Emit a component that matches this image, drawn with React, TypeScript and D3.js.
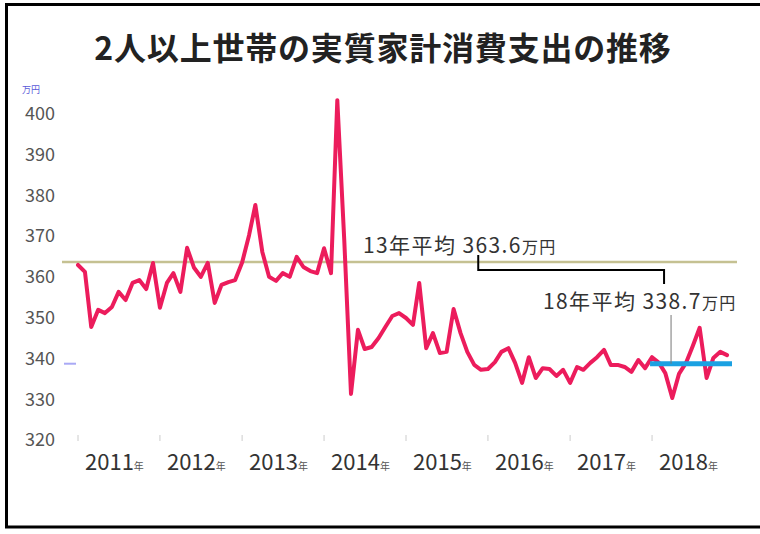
import * as d3 from 'd3';

// 月次の実質家計消費支出（万円）2011年1月〜2018年12月
const v2011 = [362.9, 361.2, 347.7, 351.9, 351.1, 352.6, 356.3, 354.3, 358.5, 359.2, 357.0, 363.4];
const v2012 = [352.4, 358.5, 360.9, 356.3, 367.1, 362.2, 360.0, 363.4, 353.6, 358.0, 358.7, 359.2];
const v2013 = [363.5, 370.2, 377.6, 366.1, 360.0, 359.0, 360.9, 360.0, 364.9, 362.4, 361.4, 360.9];
const v2014 = [367.0, 360.9, 403.3, 369.0, 331.3, 347.0, 342.3, 342.8, 345.0, 347.7, 350.4, 351.1];
const v2015 = [349.9, 348.2, 358.5, 342.5, 346.2, 341.3, 341.6, 352.1, 346.2, 341.6, 338.4, 337.2];
const v2016 = [337.4, 339.1, 341.6, 342.5, 338.9, 334.0, 340.3, 335.2, 337.6, 337.4, 335.7, 337.2];
const v2017 = [334.0, 337.9, 337.2, 338.9, 340.3, 342.1, 338.4, 338.4, 337.9, 336.7, 339.6, 337.6];
const v2018 = [340.3, 338.9, 336.4, 330.3, 336.2, 338.9, 343.0, 347.5, 335.2, 340.1, 341.6, 340.8];

const years = [2011, 2012, 2013, 2014, 2015, 2016, 2017, 2018];
const yTicks = [320, 330, 340, 350, 360, 370, 380, 390, 400];
const avg13 = 363.6;
const avg18 = 338.7;
const title = '2人以上世帯の実質家計消費支出の推移';

const series = [v2011, v2012, v2013, v2014, v2015, v2016, v2017, v2018].flatMap((arr, yi) =>
  arr.map((v, m) => ({ date: new Date(years[yi], m, 1), value: v }))
);

const font = '"Noto Sans CJK JP", "Noto Sans", sans-serif';

export default function App() {
  const width = 760;
  const height = 534;

  const x = d3.scaleTime()
    .domain([new Date(2011, 0, 1), new Date(2019, 0, 1)])
    .range([78, 734]);
  const y = d3.scaleLinear().domain([320, 400]).range([440, 113.6]);

  const line = d3.line<{ date: Date; value: number }>()
    .x(d => x(d.date))
    .y(d => y(d.value));

  const y13 = y(avg13);
  const y18 = y(avg18);
  // 注記の位置（スケールから）
  const x13 = x(new Date(2015, 10, 1)) + 4;
  const x18 = x(new Date(2018, 0, 1));

  return (
    <svg width={width} height={height} style={{ position: 'absolute', left: 0, top: 0, background: 'white' }}>
      {/* 枠 */}
      <line x1={6.5} y1={3} x2={6.5} y2={528} stroke="black" strokeWidth={3} />
      <line x1={5} y1={4.5} x2={760} y2={4.5} stroke="black" strokeWidth={3} />
      <line x1={5} y1={527} x2={760} y2={527} stroke="black" strokeWidth={3} />

      <text x={383} y={60} textAnchor="middle" fontFamily={font} fontWeight={700} fontSize={32} letterSpacing={0.8} fill="#222">
        {title}
      </text>

      <text x={22} y={93} fontFamily={font} fontSize={9} fill="#5a5ad8">万円</text>

      {yTicks.map(t => (
        <text key={t} x={55} y={y(t)} dy="0.36em" textAnchor="end" fontFamily={font} fontSize={18} fill="#555">
          {t}
        </text>
      ))}

      {years.map(yr => (
        <g key={yr}>
          <line x1={x(new Date(yr, 0, 1))} x2={x(new Date(yr, 0, 1))} y1={435} y2={441} stroke="#ccc" strokeWidth={1} />
          <text x={x(new Date(yr, 0, 1)) + 7} y={470} fontFamily={font} fontSize={22} fill="#333">
            {yr}
            <tspan fontSize={10} fill="#555">年</tspan>
          </text>
        </g>
      ))}

      <line x1={64} x2={76} y1={y18} y2={y18} stroke="#a9a9f5" strokeWidth={2} />

      {/* 13年平均 */}
      <line x1={62} x2={737} y1={y13} y2={y13} stroke="#c5c192" strokeWidth={2.5} />

      <path d={line(series) ?? ''} fill="none" stroke="#ec1c5c" strokeWidth={4} strokeLinejoin="round" strokeLinecap="round" />

      {/* 18年平均 */}
      <line x1={x18 - 2} x2={x(new Date(2019, 0, 1)) - 2} y1={y18} y2={y18} stroke="#1ba1e2" strokeWidth={5} />
      <line x1={x18 + 19} x2={x18 + 19} y1={315} y2={y18} stroke="#777" strokeWidth={1} />

      <text x={363} y={y13 - 9} fontFamily={font} fontSize={21} letterSpacing={1.4} fill="#333">
        13年平均 363.6<tspan fontSize={16}>万円</tspan>
      </text>
      <path d={`M${x13},${y13 - 7}V${y13 + 8}H${x18 + 12}V${y13 + 22}`} fill="none" stroke="black" strokeWidth={2} />

      <text x={543} y={309} fontFamily={font} fontSize={21} letterSpacing={1.4} fill="#333">
        18年平均 338.7<tspan fontSize={16}>万円</tspan>
      </text>
    </svg>
  );
}
